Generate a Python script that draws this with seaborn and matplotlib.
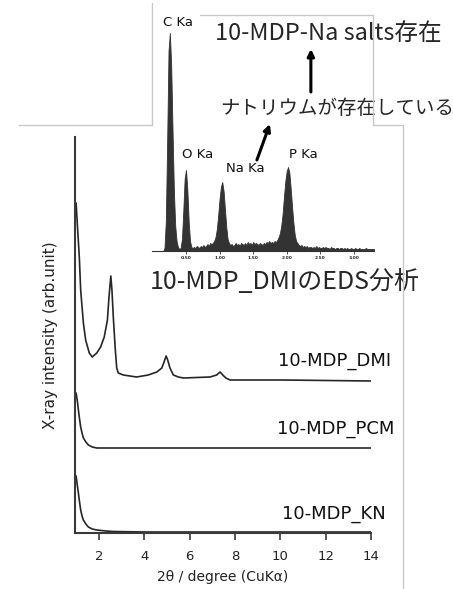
import numpy as np
import pandas as pd
import matplotlib
matplotlib.use("Agg")
import matplotlib.pyplot as plt
from matplotlib.lines import Line2D
import seaborn as sns

# XRD patterns (2theta in degree, intensity in arbitrary units, already offset)
dmi_2theta = [0.99, 1.04, 1.13, 1.19, 1.31, 1.41, 1.57, 1.70, 1.90, 2.07, 2.23, 2.37,
              2.44, 2.52, 2.57, 2.63, 2.71, 2.78, 2.85, 3.07, 3.66, 4.17, 4.55, 4.77,
              4.87, 4.96, 5.03, 5.13, 5.28, 5.50, 5.72, 6.90, 7.19, 7.34, 7.46, 7.60,
              7.78, 10.13, 14.0]
dmi_int = [330, 310, 276, 243, 210, 193, 180, 176, 180, 186, 196, 213,
           236, 257, 243, 216, 186, 165, 160, 158, 156, 158, 161, 165,
           171, 177, 173, 165, 158, 156, 155, 156, 158, 161, 158, 155,
           153, 153, 152]

pcm_2theta = [0.99, 1.05, 1.09, 1.14, 1.19, 1.25, 1.31, 1.42, 1.53, 1.70, 1.90, 2.63, 14.0]
pcm_int = [140, 131, 123, 114, 106, 100, 95, 91, 88, 86, 85, 85, 85]

kn_2theta = [0.99, 1.04, 1.09, 1.14, 1.19, 1.25, 1.31, 1.42, 1.53, 1.70, 1.90, 2.30, 2.63, 4.0, 14.0]
kn_int = [57, 48, 40, 31, 23, 17, 13, 9, 6, 4, 3, 2, 1.5, 1, 1]

sample_names = ["10-MDP_DMI", "10-MDP_PCM", "10-MDP_KN"]
xrd_ticks = [2, 4, 6, 8, 10, 12, 14]

# EDS spectrum of 10-MDP_DMI: counts per 0.02 keV channel from 0.16 to 3.30 keV
eds_start, eds_step = 0.16, 0.02
eds_counts = [
    0, 3, 30, 110, 200, 218, 185, 120, 60, 25,
    10, 4, 2, 3, 12, 40, 72, 81, 62, 30,
    10, 4, 3, 4, 3, 5, 4, 3, 5, 4,
    6, 4, 5, 7, 5, 8, 7, 8, 10, 14,
    22, 36, 52, 64, 69, 60, 42, 24, 12, 8,
    6, 7, 5, 6, 8, 6, 7, 5, 8, 7,
    6, 8, 6, 9, 7, 8, 6, 9, 7, 8,
    7, 6, 8, 7, 6, 8, 7, 9, 8, 10,
    8, 9, 8, 10, 9, 11, 14, 18, 26, 38,
    55, 70, 80, 84, 78, 62, 44, 28, 16, 10,
    8, 6, 5, 6, 4, 5, 4, 5, 3, 4,
    4, 3, 4, 3, 5, 3, 4, 3, 3, 4,
    3, 4, 3, 3, 2, 4, 3, 3, 2, 3,
    3, 2, 3, 3, 2, 3, 2, 3, 2, 2,
    3, 2, 2, 3, 2, 2, 3, 2, 2, 2,
    2, 3, 2, 2, 2, 2, 2, 2,
]
eds_energy = [round(eds_start + i * eds_step, 2) for i in range(len(eds_counts))]
eds_ticks = [0.5, 1.0, 1.5, 2.0, 2.5, 3.0]
eds_tick_labels = ["0.50", "1.00", "1.50", "2.00", "2.50", "3.00"]
eds_lines = ["C Ka", "O Ka", "Na Ka", "P Ka"]

sns.set_theme(style="white")
plt.rcParams['font.family'] = ['DejaVu Sans', 'Noto Sans CJK JP']
jp = ['Noto Sans CJK JP', 'DejaVu Sans']

W, H = 453, 589
fig = plt.figure(figsize=(W / 100, H / 100), dpi=100)

def box(x0, y0, x1, y1):
    return [x0 / W, 1 - y1 / H, (x1 - x0) / W, (y1 - y0) / H]

# main XRD axes
ax = fig.add_axes(box(75, 137, 371, 533))
line_color = '#262626'
for xs, ys in [(dmi_2theta, dmi_int), (pcm_2theta, pcm_int), (kn_2theta, kn_int)]:
    sns.lineplot(x=xs, y=ys, ax=ax, color=line_color, lw=1.2, estimator=None, sort=False)

ax.set_xlim(0.94, 14)
ax.set_ylim(0, 396)
ax.set_xticks(xrd_ticks)
ax.set_yticks([])
for s in ['top', 'right']:
    ax.spines[s].set_visible(False)
for s in ['left', 'bottom']:
    ax.spines[s].set_color('#3a3a3a')
    ax.spines[s].set_linewidth(1.5)
ax.tick_params(axis='x', direction='out', length=5, width=1.2, color='#3a3a3a',
               labelsize=9.5, pad=7, bottom=True, labelcolor='#222222')
ax.set_xlabel("2θ / degree (CuKα)", fontsize=10, labelpad=5, color='#222222')
ax.set_ylabel("X-ray intensity (arb.unit)", fontsize=11, labelpad=12, color='#222222')
ax.patch.set_visible(False)

label_pos = [(12.41, 172), (12.45, 104), (12.37, 19)]
for name, (lx, ly) in zip(sample_names, label_pos):
    ax.text(lx, ly, name, fontsize=13, ha='center', va='center', color='#111111', clip_on=False)

# EDS inset
ax2 = fig.add_axes(box(152.4, 15, 374, 251))
ax2.fill_between(eds_energy, eds_counts, 0, color='#333333', lw=0.6, edgecolor='#333333')
ax2.set_xlim(0, 3.30)
ax2.set_ylim(0, 236)
ax2.set_yticks([])
ax2.set_xticks(eds_ticks)
ax2.set_xticklabels(eds_tick_labels, fontsize=3.2, fontweight='bold')
ax2.tick_params(axis='x', direction='out', length=2, width=0.6, pad=1.5, bottom=True, color='#333333')
for s in ['top', 'right', 'left']:
    ax2.spines[s].set_visible(False)
ax2.spines['bottom'].set_color('#333333')
ax2.spines['bottom'].set_linewidth(0.8)
ax2.patch.set_visible(False)

eds_label_pos = [(0.381, 228), (0.679, 96), (1.378, 83), (2.241, 97)]
for name, (lx, ly) in zip(eds_lines, eds_label_pos):
    ax2.text(lx, ly, name, fontsize=9.5, ha='center', va='center', color='#111111', clip_on=False)

ax2.text(2.62, 218, "10-MDP-Na salts存在", fontsize=17, family=jp, ha='center', va='center', clip_on=False)
ax2.text(2.745, 143, "ナトリウムが存在している", fontsize=14, family=jp, ha='center', va='center', clip_on=False)
ax2.text(1.973, -31, "10-MDP_DMIのEDS分析", fontsize=18, family=jp, ha='center', va='center', clip_on=False)

arrow = dict(arrowstyle='-|>', lw=2.2, color='black', mutation_scale=10, shrinkA=0, shrinkB=0)
ax2.annotate('', xy=(2.36, 202), xytext=(2.36, 159), arrowprops=arrow, annotation_clip=False)
ax2.annotate('', xy=(1.75, 127), xytext=(1.556, 91), arrowprops=arrow, annotation_clip=False)

# light frame lines left over from the pasted panels
frame = [((152, 3), (152, 125)), ((19, 125), (152, 125)), ((200, 15), (373, 15)),
         ((373, 15), (373, 125)), ((373, 125), (403, 125)), ((403, 125), (403, 589))]
for (x0, y0), (x1, y1) in frame:
    fig.add_artist(Line2D([x0 / W, x1 / W], [1 - y0 / H, 1 - y1 / H], color='#c8c8c8', lw=1.0,
                          transform=fig.transFigure))

fig.savefig("out.png", dpi=100)
